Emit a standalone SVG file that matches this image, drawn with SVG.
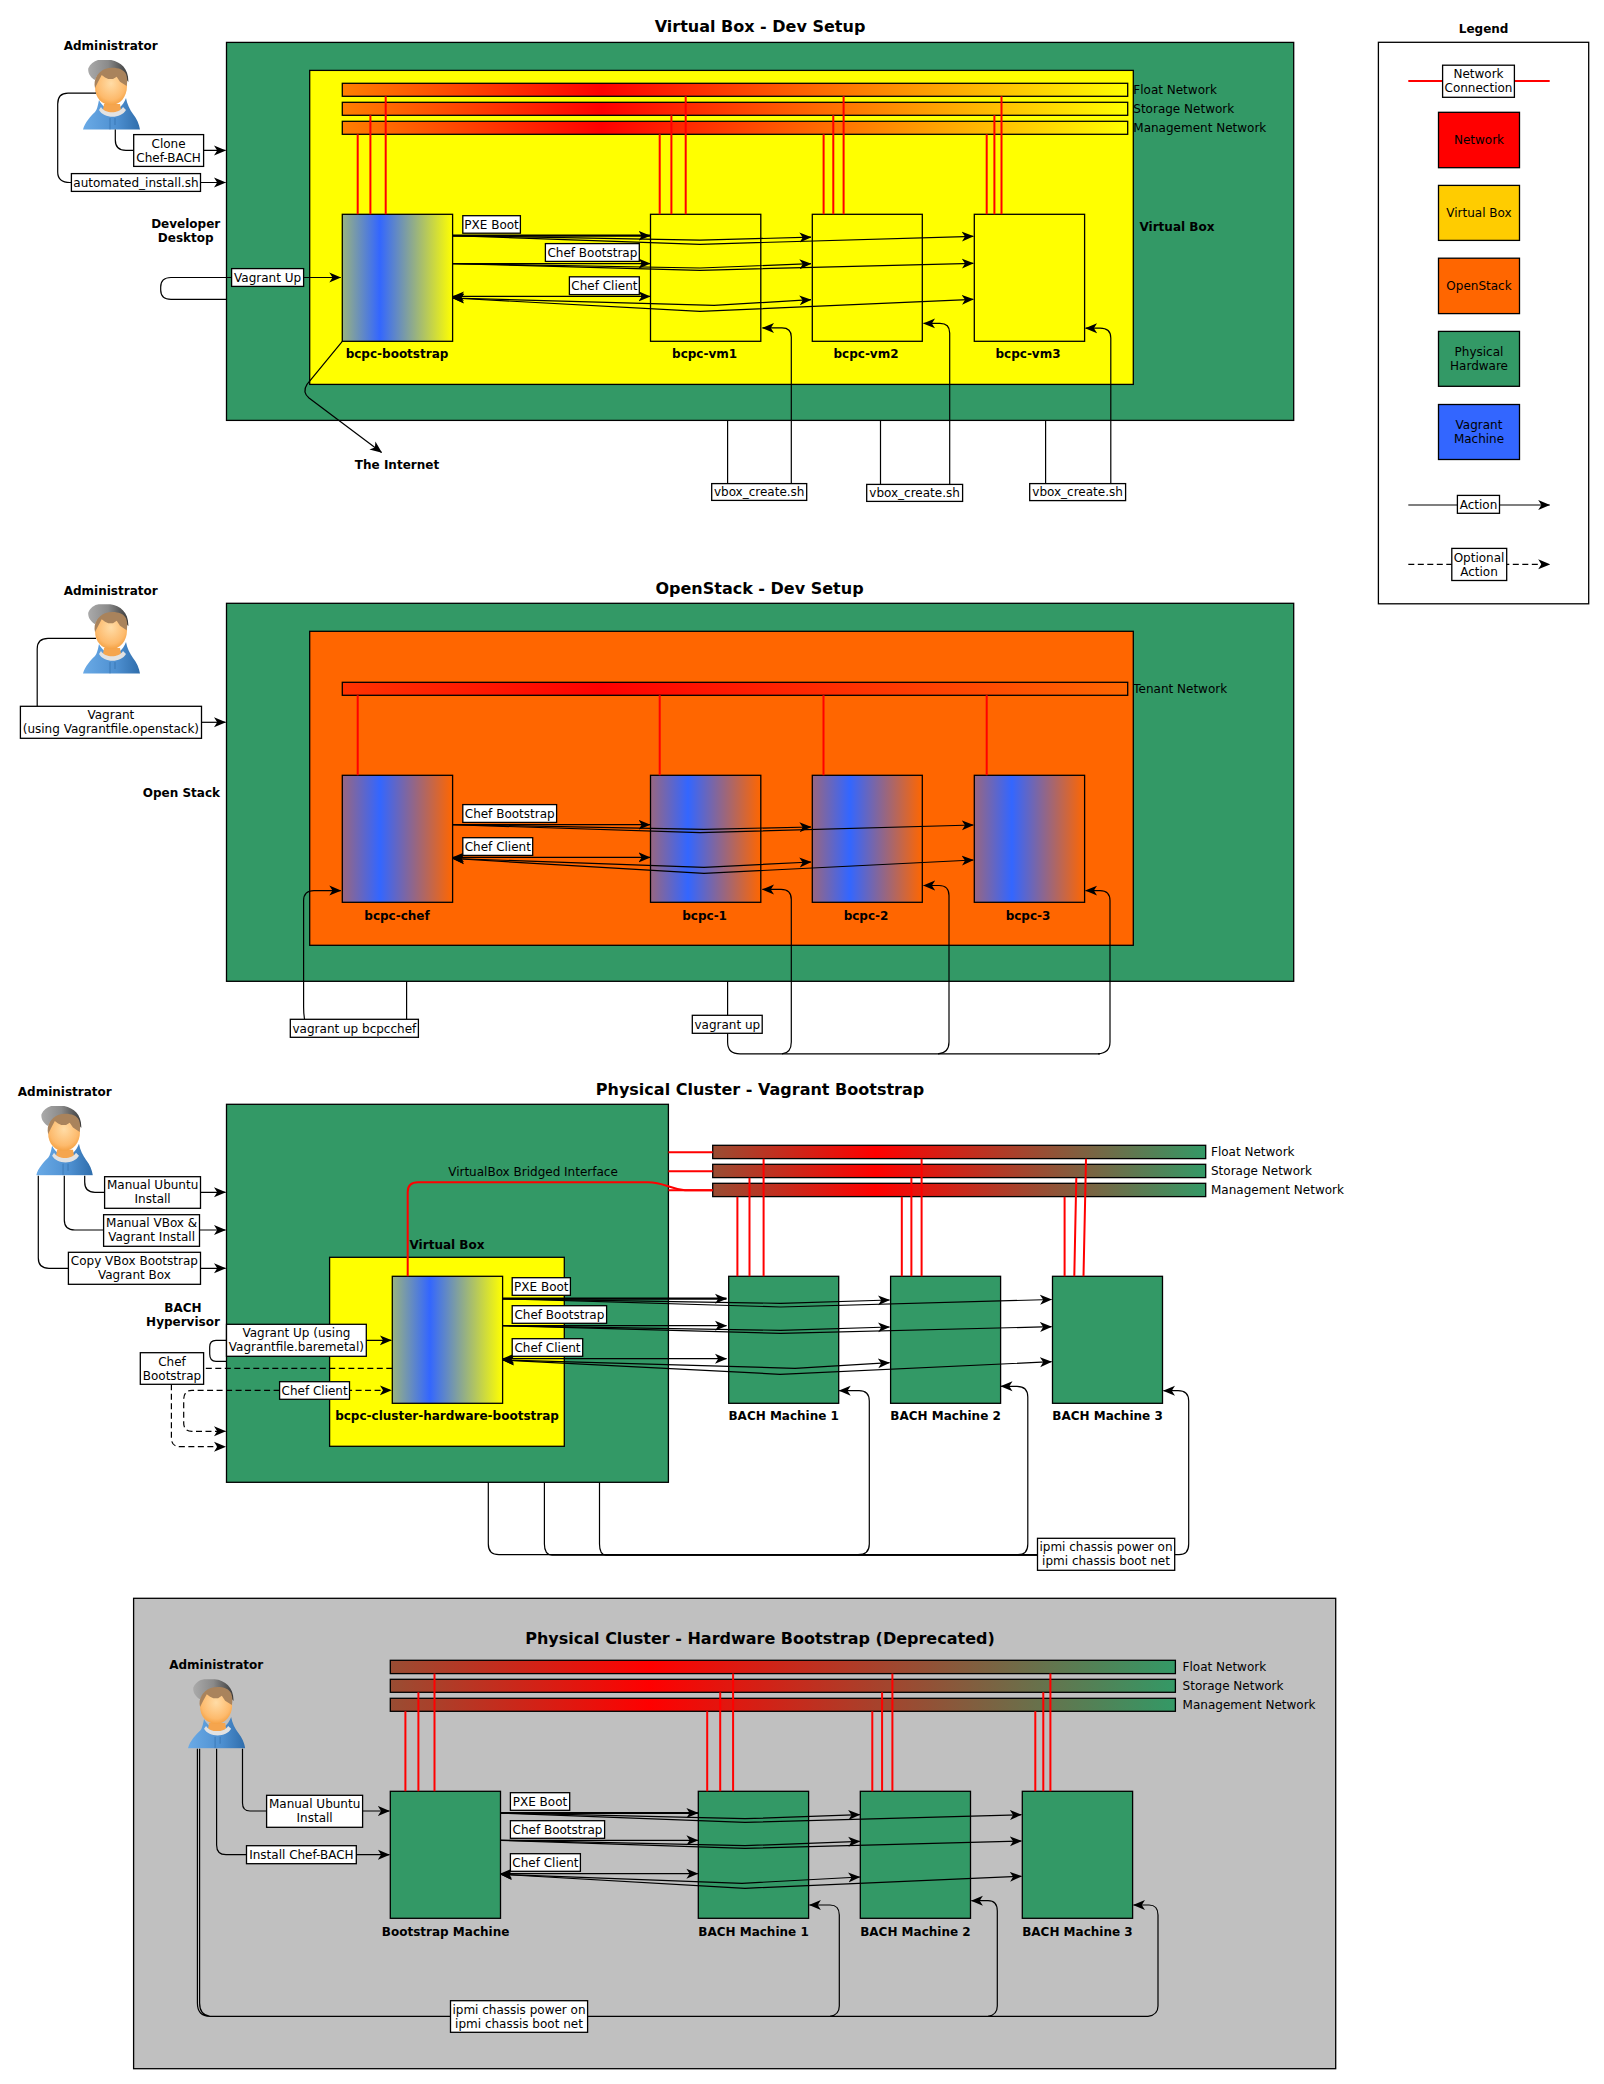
<svg xmlns="http://www.w3.org/2000/svg" width="1604" height="2084" viewBox="0 0 1604 2084">
<style>
text{font-family:"DejaVu Sans",sans-serif;font-size:12px;fill:#000;text-anchor:middle}
.b{font-weight:bold}
.t{font-weight:bold;font-size:16px}
.l{text-anchor:start}
.box,.n{stroke:#000;stroke-width:1.3}
.box{fill:#fff}
.green{fill:#339966}.yellow{fill:#ffff00}.orange{fill:#ff6600}.gray{fill:#c0c0c0}.white{fill:#fff}
.c{fill:none;stroke:#000;stroke-width:1.2;marker-end:url(#a)}
.p{fill:none;stroke:#000;stroke-width:1.2}
.e{fill:none;stroke:#000;stroke-width:1.2;marker-start:url(#a);marker-end:url(#a)}
.d{stroke-dasharray:6 3.5}
.k{stroke-width:2.2}
.r{fill:none;stroke:#ff0000;stroke-width:2}
</style>
<defs>
<marker id="a" markerUnits="userSpaceOnUse" markerWidth="12" markerHeight="11" viewBox="0 0 12 11" refX="11.5" refY="5.5" orient="auto-start-reverse"><path d="M0,0.5 L12,5.5 L0,10.5 L3.2,5.5Z" fill="#000"/></marker>
<linearGradient id="gBarY"><stop offset="0" stop-color="#ff7f00"/><stop offset=".33" stop-color="#ff0000"/><stop offset="1" stop-color="#ffff00"/></linearGradient>
<linearGradient id="gBarO"><stop offset="0" stop-color="#ff3300"/><stop offset=".33" stop-color="#ff0000"/><stop offset="1" stop-color="#ff6600"/></linearGradient>
<linearGradient id="gBarG"><stop offset="0" stop-color="#994d33"/><stop offset=".33" stop-color="#ff0000"/><stop offset="1" stop-color="#339966"/></linearGradient>
<linearGradient id="gMY"><stop offset="0" stop-color="#99b380"/><stop offset=".34" stop-color="#3366ff"/><stop offset="1" stop-color="#ffff00"/></linearGradient>
<linearGradient id="gMO"><stop offset="0" stop-color="#996680"/><stop offset=".34" stop-color="#3366ff"/><stop offset="1" stop-color="#ff6600"/></linearGradient>
<linearGradient id="pBlue" x1="0" y1="0" x2="1" y2="0"><stop offset="0" stop-color="#6aaae6"/><stop offset=".6" stop-color="#4d8fd0"/><stop offset="1" stop-color="#2f6dab"/></linearGradient>
<linearGradient id="pCap" x1="0" y1="0" x2="1" y2="0"><stop offset="0" stop-color="#aaaaaa"/><stop offset=".5" stop-color="#8a8a8a"/><stop offset="1" stop-color="#3a3a3a"/></linearGradient>
<radialGradient id="pFace" cx=".5" cy=".4" r=".65"><stop offset="0" stop-color="#ffdca6"/><stop offset=".7" stop-color="#fdba6c"/><stop offset="1" stop-color="#f29a38"/></radialGradient>
<symbol id="person" viewBox="0 0 57 70" preserveAspectRatio="none">
<path d="M0,69.5 C2,62 8,56 12,52 C14,50 15,45 16,40 C19,46 24,50 29,50 C35,50 40,46 43,38 C44,44 47,50 50,54 C54,59 56,64 57,69.5Z" fill="url(#pBlue)"/>
<path d="M21,44 L37,44 L38,50 Q29,57 20,50Z" fill="#f5a54e"/>
<path d="M18,47 C22,54 36,54 40,47 L43,50 C38,59 21,59 16,50Z" fill="#e2e2e2"/>
<path d="M27,58 V69.5 M32,58 V65" stroke="#2e6aa5" stroke-width=".6" fill="none"/>
<path d="M5.3,8.3 C8,2 14,-0.7 20.3,-0.7 C34,-1 46,6 45.3,22 L40,15 L14,16 L12,20 C8,18 4.5,13 5.3,8.3Z" fill="url(#pCap)"/>
<path d="M12,27 C12,38 19,45 28,45 C37,45 44,37 44,26 C44,14 37,9 28,9 C19,9 12,15 12,27Z" fill="url(#pFace)"/>
<path d="M12,28 C10,19 15,12 22,9 C30,6.5 40,8 43,14 C44.5,18 44.5,22 43.7,26 L37,21.7 L33.7,16.7 L30,19 L25.3,19 L22,17.5 L18.7,15 L15,22Z" fill="#a9835c"/>
</symbol>
</defs>

<!-- section 1 nodes -->
<g id="desktop1"><rect class="n green" x="226.5" y="42.4" width="1067.2" height="378"/></g>
<g id="virtualbox1"><rect class="n yellow" x="309.7" y="70.4" width="823.6" height="314"/></g>
<g id="nets1">
<rect class="n" fill="url(#gBarY)" x="342.3" y="83.3" width="785.4" height="13"/>
<rect class="n" fill="url(#gBarY)" x="342.3" y="102.3" width="785.4" height="13"/>
<rect class="n" fill="url(#gBarY)" x="342.3" y="121.3" width="785.4" height="13"/>
<text class="l" x="1133.3" y="94">Float Network</text>
<text class="l" x="1133.3" y="113">Storage Network</text>
<text class="l" x="1133.3" y="132">Management Network</text>
</g>
<g id="bcpc-bootstrap"><rect class="n" fill="url(#gMY)" x="342.3" y="214.3" width="110.3" height="127"/><text class="b" x="397" y="358.3">bcpc-bootstrap</text></g>
<g id="bcpc-vm1"><rect class="n yellow" x="650.5" y="214.3" width="110.3" height="127"/><text class="b" x="704.6" y="358.3">bcpc-vm1</text></g>
<g id="bcpc-vm2"><rect class="n yellow" x="812.3" y="214.3" width="110" height="127"/><text class="b" x="866" y="358.3">bcpc-vm2</text></g>
<g id="bcpc-vm3"><rect class="n yellow" x="974.3" y="214.3" width="110.3" height="127"/><text class="b" x="1028" y="358.3">bcpc-vm3</text></g>
<g id="admin1"><text class="b" x="110.7" y="50">Administrator</text><use href="#person" x="83" y="60" width="57" height="70"/></g>
<text class="t" x="760" y="32">Virtual Box - Dev Setup</text>
<text class="b" x="185.7" y="228.3">Developer</text><text class="b" x="185.7" y="242.3">Desktop</text>
<text class="b l" x="1139.5" y="231.3">Virtual Box</text>
<text class="b" x="397" y="469.3">The Internet</text>

<!-- section 2 nodes -->
<g id="desktop2"><rect class="n green" x="226.5" y="603.3" width="1067.2" height="378"/></g>
<g id="openstack2"><rect class="n orange" x="309.7" y="631.3" width="823.6" height="314"/></g>
<g id="net2"><rect class="n" fill="url(#gBarO)" x="342.3" y="682.3" width="785.4" height="13"/><text class="l" x="1133.3" y="693">Tenant Network</text></g>
<g id="bcpc-chef"><rect class="n" fill="url(#gMO)" x="342.3" y="775.3" width="110.3" height="127"/><text class="b" x="397" y="919.6">bcpc-chef</text></g>
<g id="bcpc-1"><rect class="n" fill="url(#gMO)" x="650.5" y="775.3" width="110.3" height="127"/><text class="b" x="704.6" y="919.6">bcpc-1</text></g>
<g id="bcpc-2"><rect class="n" fill="url(#gMO)" x="812.3" y="775.3" width="110" height="127"/><text class="b" x="866" y="919.6">bcpc-2</text></g>
<g id="bcpc-3"><rect class="n" fill="url(#gMO)" x="974.3" y="775.3" width="110.3" height="127"/><text class="b" x="1028" y="919.6">bcpc-3</text></g>
<g id="admin2"><text class="b" x="110.7" y="595">Administrator</text><use href="#person" x="83" y="604.2" width="57" height="69.8"/></g>
<text class="t" x="759.5" y="594">OpenStack - Dev Setup</text>
<text class="b" x="181.4" y="797">Open Stack</text>

<!-- section 3 nodes -->
<g id="hypervisor3"><rect class="n green" x="226.5" y="1104.3" width="441.9" height="378"/></g>
<g id="virtualbox3"><rect class="n yellow" x="329.6" y="1257.3" width="234.7" height="189"/><text class="b" x="447" y="1249.3">Virtual Box</text></g>
<g id="bcpc-cluster-hardware-bootstrap"><rect class="n" fill="url(#gMY)" x="392.3" y="1276.3" width="110.3" height="127"/><text class="b" x="447" y="1420.3">bcpc-cluster-hardware-bootstrap</text></g>
<g id="nets3">
<rect class="n" fill="url(#gBarG)" x="712.7" y="1145.3" width="493" height="13.3"/>
<rect class="n" fill="url(#gBarG)" x="712.7" y="1164.3" width="493" height="13.3"/>
<rect class="n" fill="url(#gBarG)" x="712.7" y="1183.3" width="493" height="13.3"/>
<text class="l" x="1211" y="1156">Float Network</text>
<text class="l" x="1211" y="1175">Storage Network</text>
<text class="l" x="1211" y="1194">Management Network</text>
</g>
<g id="bach3-1"><rect class="n green" x="728.7" y="1276.3" width="110" height="127"/><text class="b" x="783.7" y="1420.3">BACH Machine 1</text></g>
<g id="bach3-2"><rect class="n green" x="890.6" y="1276.3" width="110" height="127"/><text class="b" x="945.6" y="1420.3">BACH Machine 2</text></g>
<g id="bach3-3"><rect class="n green" x="1052.5" y="1276.3" width="110" height="127"/><text class="b" x="1107.5" y="1420.3">BACH Machine 3</text></g>
<g id="admin3"><text class="b" x="64.8" y="1096.3">Administrator</text><use href="#person" x="36.2" y="1106" width="56.7" height="69.7"/></g>
<text class="t" x="760" y="1095">Physical Cluster - Vagrant Bootstrap</text>
<text class="b" x="183" y="1312.3">BACH</text><text class="b" x="183" y="1326.3">Hypervisor</text>
<text x="533" y="1176.3">VirtualBox Bridged Interface</text>

<!-- section 4 nodes -->
<g id="deprecated4"><rect class="n gray" x="133.6" y="1598.3" width="1202.1" height="470.4"/></g>
<text class="t" x="760" y="1644">Physical Cluster - Hardware Bootstrap (Deprecated)</text>
<g id="nets4">
<rect class="n" fill="url(#gBarG)" x="390.3" y="1660.3" width="785.1" height="13.3"/>
<rect class="n" fill="url(#gBarG)" x="390.3" y="1679.3" width="785.1" height="13"/>
<rect class="n" fill="url(#gBarG)" x="390.3" y="1698.3" width="785.1" height="13"/>
<text class="l" x="1182.6" y="1671.3">Float Network</text>
<text class="l" x="1182.6" y="1690.3">Storage Network</text>
<text class="l" x="1182.6" y="1709.3">Management Network</text>
</g>
<g id="bootstrap4"><rect class="n green" x="390.3" y="1791.3" width="110.2" height="127"/><text class="b" x="445.6" y="1936.3">Bootstrap Machine</text></g>
<g id="bach4-1"><rect class="n green" x="698.3" y="1791.3" width="110.3" height="127"/><text class="b" x="753.5" y="1936.3">BACH Machine 1</text></g>
<g id="bach4-2"><rect class="n green" x="860.3" y="1791.3" width="110.2" height="127"/><text class="b" x="915.4" y="1936.3">BACH Machine 2</text></g>
<g id="bach4-3"><rect class="n green" x="1022.3" y="1791.3" width="110.3" height="127"/><text class="b" x="1077.4" y="1936.3">BACH Machine 3</text></g>
<g id="admin4"><text class="b" x="216.2" y="1669.3">Administrator</text><use href="#person" x="188" y="1679.3" width="57.2" height="69.4"/></g>

<!-- legend -->
<g id="legend">
<text class="b" x="1483.6" y="33.2">Legend</text>
<rect class="n white" x="1378.4" y="42.3" width="210.3" height="561.5"/>
<g id="legend-network"><rect class="n" fill="#ff0000" x="1438.5" y="112.3" width="81" height="55.4"/><text x="1479" y="144.3">Network</text></g>
<g id="legend-virtualbox"><rect class="n" fill="#ffcc00" x="1438.5" y="185.4" width="81" height="55"/><text x="1479" y="217.2">Virtual Box</text></g>
<g id="legend-openstack"><rect class="n" fill="#ff6600" x="1438.5" y="258.2" width="81" height="55.4"/><text x="1479" y="290.2">OpenStack</text></g>
<g id="legend-physical"><rect class="n" fill="#339966" x="1438.5" y="331.4" width="81" height="54.9"/><text x="1479" y="356.2">Physical</text><text x="1479" y="370.3">Hardware</text></g>
<g id="legend-vagrant"><rect class="n" fill="#3366ff" x="1438.5" y="404.5" width="81" height="55"/><text x="1479" y="429.2">Vagrant</text><text x="1479" y="443.3">Machine</text></g>
</g>

<g id="connectors">
<!-- red s1 -->
<path class="r" d="M357.7,134.3V214.3M370.4,115.3V214.3M385.7,96.3V214.3M659.7,134.3V214.3M671.4,115.3V214.3M685.7,96.3V214.3M823.6,134.3V214.3M833.3,115.3V214.3M843.6,96.3V214.3M986.7,134.3V214.3M994.4,115.3V214.3M1001.5,96.3V214.3"/>
<!-- s1 connectors -->
<path class="c" d="M96,93.2H68Q57.7,93.2 57.7,104V172Q57.7,182.5 70,182.5H225.5"/>
<path class="c" d="M115.3,129.6V140Q115.3,150.4 126,150.4H225.5"/>
<path class="c" d="M226.5,299.3H171Q160.7,299.3 160.7,290V287Q160.7,277.5 171,277.5H340.8"/>
<path class="c" d="M342.3,341.4L307,384.3Q302,392 309,398L381.6,452.5"/>
<path class="c k" d="M452.6,235.7H650"/>
<path class="c" d="M452.6,235.7L700,240.2L811,237.2"/>
<path class="c" d="M452.6,235.7L700,244.3L973.3,236.3"/>
<path class="c" d="M452.6,263.6H650"/>
<path class="c" d="M452.6,263.6L700,268L811,263.7"/>
<path class="c" d="M452.6,263.6L700,270.3L973.3,263.3"/>
<path class="e" d="M452.6,296.4H650"/>
<path class="e" d="M452.6,298L714,305.4L811,299.7"/>
<path class="e" d="M452.6,298L700,311.4L973.3,299.3"/>
<path class="p" d="M727.6,420.4V484M880.5,420.4V484M1045.6,420.4V484"/>
<path class="c" d="M791.3,484V337Q791.3,327.9 782,327.9H762.5"/>
<path class="c" d="M949.7,484V333Q949.7,323.4 940,323.4H923.6"/>
<path class="c" d="M1110.8,484V338Q1110.8,328.2 1100,328.2H1085.6"/>
<!-- s2 -->
<path class="r" d="M357.7,695.3V775.3M659.7,695.3V775.3M823.5,695.3V775.3M986.7,695.3V775.3"/>
<path class="p" d="M96,638.4H48Q37.2,638.4 37.2,649V706.3"/>
<path class="c" d="M201.5,722.3H225.5"/>
<path class="c" d="M452.6,824.7H650"/>
<path class="c" d="M452.6,824.7L704,829.3L811,827"/>
<path class="c" d="M452.6,824.7L700,832.7L973.3,825"/>
<path class="e" d="M452.6,857.4H650"/>
<path class="e" d="M452.6,858.5L704,867.3L811,862"/>
<path class="e" d="M452.6,858.5L704,873.4L973.3,860"/>
<path class="p" d="M406.6,981.3V1019.3"/>
<path class="c" d="M304.6,1019.3Q303.6,1014 303.6,1007V900.6Q303.6,890.6 314,890.6H340.8"/>
<path class="p" d="M727.6,981.3V1042Q727.6,1053.9 740,1053.9H1100"/>
<path class="c" d="M782,1053.9Q791.3,1053 791.3,1042V899.4Q791.3,889.4 781,889.4H762.5"/>
<path class="c" d="M938,1053.9Q949,1053 949,1042V895.5Q949,885.5 939,885.5H923.6"/>
<path class="c" d="M1098,1053.9Q1110,1053 1110,1042V900.6Q1110,890.6 1100,890.6H1085.6"/>
<!-- s3 -->
<path class="r" d="M668.4,1152.3H712.7M668.4,1171.3H712.7M668.4,1190.3H712.7"/>
<path class="r" d="M407.7,1276.3V1192Q407.7,1182.3 418,1182.3H648C664,1182.3 668,1188.5 685,1190.3H712.7"/>
<path class="r" d="M737.4,1196.7V1276.3M749.5,1177.7V1276.3M763.6,1158.7V1276.3M901.8,1196.7V1276.3M911.4,1177.7V1276.3M921.6,1158.7V1276.3M1064.6,1196.7V1276.3M1076.3,1177.7L1074.3,1276.3M1086,1158.7L1083.5,1276.3"/>
<path class="c" d="M84.7,1175.7V1182Q84.7,1192.3 95,1192.3H225.5"/>
<path class="c" d="M64.3,1175.7V1220Q64.3,1230 75,1230H225.5"/>
<path class="c" d="M38.3,1175.7V1258Q38.3,1268.3 49,1268.3H225.5"/>
<path class="c" d="M226.5,1361.3H216Q209.7,1361.3 209.7,1354V1347Q209.7,1340.3 216,1340.3H391.3"/>
<path class="p d" d="M392.3,1368.3H203.6"/>
<path class="c d" d="M171.4,1384.3V1438Q171.4,1446.7 180,1446.7H225.5"/>
<path class="c d" d="M279.6,1390.3H391.3"/>
<path class="c d" d="M279.6,1390.3H192Q183.7,1390.3 183.7,1400V1423Q183.7,1431.3 192,1431.3H225.5"/>
<path class="c k" d="M502.6,1298.7H726.5"/>
<path class="c" d="M502.6,1298.7L780.6,1303.3L889.5,1300"/>
<path class="c" d="M502.6,1298.7L780.6,1307L1051.5,1299.5"/>
<path class="c" d="M502.6,1325.7H726.5"/>
<path class="c" d="M502.6,1325.7L780.6,1330.3L889.5,1327"/>
<path class="c" d="M502.6,1325.7L780.6,1333.3L1051.5,1326.7"/>
<path class="e" d="M502.6,1358.7H726.5"/>
<path class="e" d="M502.6,1360L795,1368.3L889.5,1362.7"/>
<path class="e" d="M502.6,1360L780,1374.3L1051.5,1361.7"/>
<path class="p" d="M488.3,1482.3V1544Q488.3,1554.7 499,1554.7H1037.5"/>
<path class="p" d="M544.4,1482.3V1544Q544.4,1554.7 552,1555.2H1037.5"/>
<path class="p" d="M599.5,1482.3V1544Q599.5,1554.7 606,1555.2H1037.5"/>
<path class="c" d="M858,1554.7Q869.3,1554.7 869.3,1544V1401Q869.3,1390.7 859,1390.7H839.2"/>
<path class="c" d="M1018,1554.7Q1027.8,1554.7 1027.8,1544V1397Q1027.8,1386.3 1017,1386.3H1001"/>
<path class="c" d="M1174.7,1554.7H1179Q1188.7,1554.7 1188.7,1544V1401Q1188.7,1390.7 1178,1390.7H1163.5"/>
<!-- s4 -->
<path class="r" d="M405.4,1711.3V1791.3M418.4,1692.3V1791.3M434.5,1673.6V1791.3M707.2,1711.3V1791.3M720.2,1692.3V1791.3M733.1,1673.6V1791.3M872.3,1711.3V1791.3M882.1,1692.3V1791.3M892.4,1673.6V1791.3M1035.3,1711.3V1791.3M1043.3,1692.3V1791.3M1050.4,1673.6V1791.3"/>
<path class="c" d="M242.5,1748.7V1803Q242.5,1811 250,1811H389.4"/>
<path class="c" d="M216.6,1748.7V1845Q216.6,1854.7 226,1854.7H389.4"/>
<path class="c k" d="M500.5,1813H697.9"/>
<path class="c" d="M500.5,1813L745,1818.7L859.8,1814.7"/>
<path class="c" d="M500.5,1813L745,1822.3L1021.4,1814.7"/>
<path class="c" d="M500.5,1840.3H697.9"/>
<path class="c" d="M500.5,1840.3L745,1845.7L859.8,1841.3"/>
<path class="c" d="M500.5,1840.3L745,1848.3L1021.4,1841"/>
<path class="e" d="M500.5,1873.7H697.9"/>
<path class="e" d="M500.5,1874.3L742,1883.3L859.8,1877"/>
<path class="e" d="M500.5,1874.3L745,1888.3L1021.4,1876.3"/>
<path class="p" d="M197.4,1748.7V2003Q197.4,2016.3 210,2016.3H1148M199.6,1748.7V2003Q199.6,2015 210,2016.3"/>
<path class="c" d="M830,2016.3Q839.3,2015 839.3,2006V1915Q839.3,1905 830,1905H809.4"/>
<path class="c" d="M988,2016.3Q997.3,2015 997.3,2006V1911Q997.3,1900.7 988,1900.7H971.4"/>
<path class="c" d="M1148,2016.3Q1158,2015 1158,2006V1915Q1158,1905 1149,1905H1133.5"/>
<!-- legend -->
<path class="r" d="M1408.3,81H1549.7"/>
<path class="c" d="M1408.3,505H1549.7"/>
<path class="c d" d="M1408.3,564.3H1549.7"/>
</g>

<g id="edge-labels">
<g id="l1"><rect class="box" x="133.7" y="134.6" width="69.9" height="31.8"/><text x="168.6" y="148">Clone</text><text x="168.6" y="162">Chef-BACH</text></g>
<g id="l2"><rect class="box" x="71.4" y="173.6" width="129.1" height="17.8"/><text x="136" y="186.8">automated_install.sh</text></g>
<g id="l3"><rect class="box" x="231.6" y="268.6" width="72" height="17.8"/><text x="267.6" y="281.8">Vagrant Up</text></g>
<g id="l4"><rect class="box" x="462.8" y="215.7" width="57.6" height="17.5"/><text x="491.6" y="228.8">PXE Boot</text></g>
<g id="l5"><rect class="box" x="545.4" y="243.6" width="93.9" height="17.8"/><text x="592.4" y="256.8">Chef Bootstrap</text></g>
<g id="l6"><rect class="box" x="569.4" y="276.8" width="69.9" height="17.8"/><text x="604.4" y="290">Chef Client</text></g>
<g id="l7"><rect class="box" x="711.7" y="483.6" width="95" height="16.8"/><text x="759.2" y="496.3">vbox_create.sh</text></g>
<g id="l8"><rect class="box" x="866.7" y="484.4" width="95.9" height="17"/><text x="914.6" y="497.2">vbox_create.sh</text></g>
<g id="l9"><rect class="box" x="1029.7" y="483.6" width="95.9" height="17"/><text x="1077.6" y="496.3">vbox_create.sh</text></g>

<g id="l10"><rect class="box" x="20.4" y="706.3" width="181.1" height="32"/><text x="110.9" y="719">Vagrant</text><text x="110.9" y="733">(using Vagrantfile.openstack)</text></g>
<g id="l11"><rect class="box" x="462.8" y="804.6" width="93.8" height="17.8"/><text x="509.7" y="817.8">Chef Bootstrap</text></g>
<g id="l12"><rect class="box" x="462.8" y="837.7" width="69.9" height="17.7"/><text x="497.8" y="850.8">Chef Client</text></g>
<g id="l13"><rect class="box" x="290.3" y="1019.3" width="128.1" height="18"/><text x="354.4" y="1032.6">vagrant up bcpcchef</text></g>
<g id="l14"><rect class="box" x="692.3" y="1015.3" width="69.9" height="18"/><text x="727.3" y="1028.6">vagrant up</text></g>

<g id="l15"><rect class="box" x="104.6" y="1176.7" width="95.9" height="31.6"/><text x="152.6" y="1189.3">Manual Ubuntu</text><text x="152.6" y="1203.3">Install</text></g>
<g id="l16"><rect class="box" x="103.6" y="1214.7" width="95.9" height="31.6"/><text x="151.6" y="1227.3">Manual VBox &amp;</text><text x="151.6" y="1241.3">Vagrant Install</text></g>
<g id="l17"><rect class="box" x="68.4" y="1252.3" width="132.1" height="32"/><text x="134.4" y="1265">Copy VBox Bootstrap</text><text x="134.4" y="1279">Vagrant Box</text></g>
<g id="l18"><rect class="box" x="226.5" y="1324.3" width="139.8" height="32"/><text x="296.4" y="1337">Vagrant Up (using</text><text x="296.4" y="1351">Vagrantfile.baremetal)</text></g>
<g id="l19"><rect class="box" x="140.3" y="1352.7" width="63.3" height="31.6"/><text x="172" y="1365.5">Chef</text><text x="172" y="1379.5">Bootstrap</text></g>
<g id="l20"><rect class="box" x="279.6" y="1381.7" width="69.9" height="17.6"/><text x="314.6" y="1394.7">Chef Client</text></g>
<g id="l21"><rect class="box" x="512.2" y="1277.7" width="58.2" height="17.6"/><text x="541.3" y="1290.7">PXE Boot</text></g>
<g id="l22"><rect class="box" x="512.2" y="1305.7" width="94.4" height="17.6"/><text x="559.4" y="1318.7">Chef Bootstrap</text></g>
<g id="l23"><rect class="box" x="512.2" y="1338.7" width="70.5" height="17.6"/><text x="547.5" y="1351.7">Chef Client</text></g>
<g id="l24"><rect class="box" x="1037.5" y="1538.3" width="137.2" height="32"/><text x="1106" y="1551">ipmi chassis power on</text><text x="1106" y="1565">ipmi chassis boot net</text></g>

<g id="l25"><rect class="box" x="266.6" y="1795.3" width="96" height="32"/><text x="314.6" y="1808">Manual Ubuntu</text><text x="314.6" y="1822">Install</text></g>
<g id="l26"><rect class="box" x="246.5" y="1845.7" width="109.8" height="18"/><text x="301.4" y="1859">Install Chef-BACH</text></g>
<g id="l27"><rect class="box" x="510.4" y="1792.7" width="59.3" height="17.6"/><text x="540" y="1806">PXE Boot</text></g>
<g id="l28"><rect class="box" x="510.4" y="1820.7" width="94.2" height="17.6"/><text x="557.5" y="1833.8">Chef Bootstrap</text></g>
<g id="l29"><rect class="box" x="510.4" y="1853.7" width="70" height="17.6"/><text x="545.4" y="1866.8">Chef Client</text></g>
<g id="l30"><rect class="box" x="450.5" y="2000.7" width="137.1" height="31.6"/><text x="519" y="2013.8">ipmi chassis power on</text><text x="519" y="2027.8">ipmi chassis boot net</text></g>

<g id="l31"><rect class="box" x="1442.6" y="65.2" width="71.8" height="32.1"/><text x="1478.5" y="78">Network</text><text x="1478.5" y="92">Connection</text></g>
<g id="l32"><rect class="box" x="1457.4" y="495.4" width="42.1" height="17.9"/><text x="1478.5" y="509">Action</text></g>
<g id="l33"><rect class="box" x="1451.8" y="548.4" width="54.9" height="32.1"/><text x="1479" y="562.2">Optional</text><text x="1479" y="576.3">Action</text></g>
</g>
</svg>
